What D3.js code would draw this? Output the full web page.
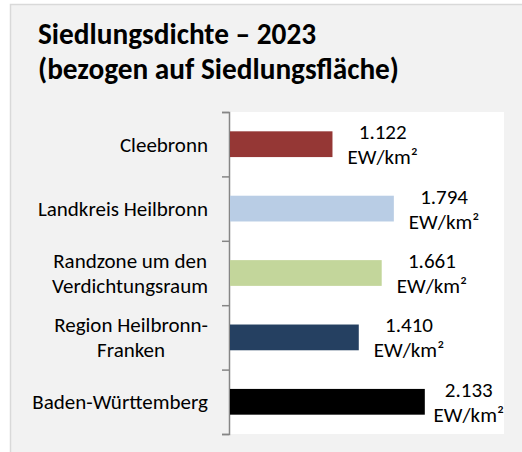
<!DOCTYPE html>
<html>
<head>
<meta charset="utf-8">
<script src="https://cdn.jsdelivr.net/npm/d3@7"></script>
<style>
  html, body { margin: 0; padding: 0; background: #ffffff; }
  svg { display: block; }
  text { font-family: Carlito, Calibri, Lato, "Open Sans", sans-serif; fill: #000; }
</style>
</head>
<body>
<svg id="chart" width="522" height="452"></svg>
<script>
// Siedlungsdichte 2023, Einwohner je km² Siedlungsfläche
const titleLines = ["Siedlungsdichte – 2023", "(bezogen auf Siedlungsfläche)"];
const categories = [
  ["Cleebronn"],
  ["Landkreis Heilbronn"],
  ["Randzone um den", "Verdichtungsraum"],
  ["Region Heilbronn-", "Franken"],
  ["Baden-Württemberg"]
];
const values = [1122, 1794, 1661, 1410, 2133];
const valueLabels = ["1.122", "1.794", "1.661", "1.410", "2.133"];
const unitLabel = "EW/km²";
const barColors = ["#953735", "#b9cde5", "#c3d69b", "#254061", "#000000"];

const svg = d3.select("#chart");
const W = 522, H = 452;

// frame
svg.append("rect")
  .attr("x", 10.5).attr("y", 4.5)
  .attr("width", W).attr("height", H)
  .attr("fill", "#f2f2f2").attr("stroke", "#d9d9d9").attr("stroke-width", 1.5);

// title
const title = svg.append("text")
  .style("font-weight", "bold").style("font-size", "29.3px");
titleLines.forEach((t, i) => {
  title.append("tspan").attr("x", 38).attr("y", 44 + i * 35).text(t);
});

const plot = { left: 230, right: 504, top: 112, bottom: 434 };

svg.append("rect")
  .attr("x", plot.left).attr("y", plot.top)
  .attr("width", plot.right - plot.left).attr("height", plot.bottom - plot.top)
  .attr("fill", "#ffffff");

const keys = categories.map((c, i) => i);
const x = d3.scaleLinear().domain([0, 3000]).range([plot.left, plot.right]);
const y = d3.scaleBand().domain(keys).range([plot.top, plot.bottom])
  .paddingInner(0.6).paddingOuter(0.3);

// category axis with ticks on the band boundaries
const yEdge = d3.scaleLinear().domain([0, categories.length]).range([plot.top, plot.bottom]);
const axis = svg.append("g")
  .attr("transform", `translate(${plot.left - 1},0)`)
  .call(d3.axisLeft(yEdge).ticks(categories.length).tickSize(7).tickSizeOuter(7).tickFormat(""));
axis.selectAll("path, line").attr("stroke", "#868686").attr("stroke-width", 1.5);

// bars
svg.append("g").selectAll("rect")
  .data(keys)
  .join("rect")
  .attr("x", x(0))
  .attr("y", i => y(i))
  .attr("width", i => x(values[i]) - x(0))
  .attr("height", y.bandwidth())
  .attr("fill", i => barColors[i]);

// category labels: lines centred on each other, block right-aligned at the axis
const catG = svg.append("g").style("font-size", "21px");
keys.forEach(i => {
  const lines = categories[i];
  const cy = y(i) + y.bandwidth() / 2;
  const t = catG.append("text").attr("text-anchor", "middle");
  const base = lines.length === 1 ? cy + 7.5 : cy - 5.5;
  lines.forEach((ln, k) => t.append("tspan").attr("x", 0).attr("y", base + k * 25).text(ln));
  const w = t.node().getBBox().width;
  t.selectAll("tspan").attr("x", 208 - w / 2);
});

// value labels: just past the bar end, kept inside the plot area
const valG = svg.append("g").style("font-size", "21px");
keys.forEach(i => {
  const cy = y(i) + y.bandwidth() / 2;
  const t = valG.append("text").attr("text-anchor", "middle");
  t.append("tspan").attr("x", 0).attr("y", cy - 5).text(valueLabels[i]);
  t.append("tspan").attr("x", 0).attr("y", cy + 20).text(unitLabel);
  const w = t.node().getBBox().width;
  const cx = Math.min(x(values[i]) + 15 + w / 2, plot.right - w / 2);
  t.selectAll("tspan").attr("x", cx);
});
</script>
</body>
</html>
